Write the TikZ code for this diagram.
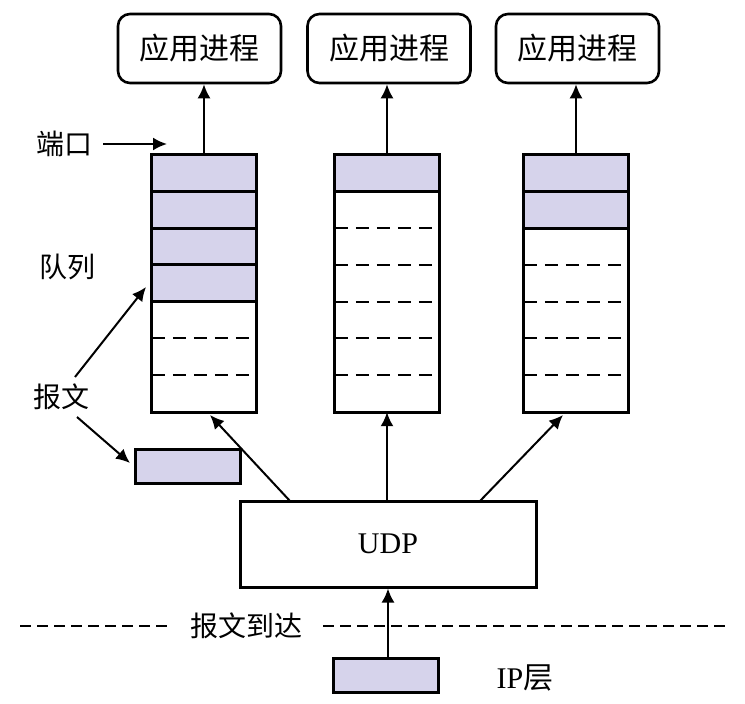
\documentclass[tikz,border=0pt]{standalone}
\usepackage{fontspec}
\setmainfont{Liberation Serif}
\newfontfamily\cjk{Noto Sans CJK SC}
\usetikzlibrary{arrows.meta}
\definecolor{pktfill}{RGB}{214,211,235}
\begin{document}
\begin{tikzpicture}[x=1pt,y=-1pt,
  app/.style={draw, line width=2.6pt, rounded corners=12pt, minimum width=163pt, minimum height=69pt, inner sep=0pt, font=\cjk\fontsize{30}{36}\selectfont},
  queue/.style={minimum width=104pt, minimum height=257pt, inner sep=0pt},
  qborder/.style={line width=3pt},
  solidln/.style={line width=3pt},
  dashln/.style={line width=2pt, dash pattern=on 13pt off 8pt},
  pkt/.style={draw, fill=pktfill, line width=3pt, minimum width=105pt, minimum height=34pt, inner sep=0pt},
  udpbox/.style={draw, line width=3pt, minimum width=296pt, minimum height=86pt, inner sep=0pt, font=\fontsize{30}{36}\selectfont},
  lbl/.style={inner sep=0pt, font=\cjk\fontsize{28}{34}\selectfont},
  arr/.style={line width=2pt, -{Latex[length=14pt,width=13pt]}},
  sep/.style={line width=2pt, dash pattern=on 11pt off 6pt}]
\useasboundingbox (0,0) rectangle (745,704);

% application processes
\node[app] (a1) at (199.5,48.5) {应用进程};
\node[app] (a2) at (389,48.5) {应用进程};
\node[app] (a3) at (577.5,48.5) {应用进程};

% queues
\node[queue] (q1) at (204,283.5) {};
\node[queue] (q2) at (387,283.5) {};
\node[queue] (q3) at (576,283.5) {};
\foreach \q/\n in {q1/4,q2/1,q3/2} {
  \fill[pktfill] (\q.north west) rectangle ([yshift=-\n*36.714pt]\q.north east);
  \foreach \j in {1,...,6} {
    \ifnum\j>\n\def\st{dashln}\else\def\st{solidln}\fi
    \draw[\st] ([yshift=-\j*36.714pt]\q.north west) -- ([yshift=-\j*36.714pt]\q.north east);
  }
  \draw[qborder] (\q.north west) rectangle (\q.south east);
}

% queue -> application arrows
\draw[arr] (q1.north) -- (q1.north |- a1.south);
\draw[arr] (q2.north) -- (q2.north |- a2.south);
\draw[arr] (q3.north) -- (q3.north |- a3.south);

% labels on the left
\node[lbl] (port) at (64.5,144) {端口};
\coordinate (porttip) at (167,144);
\draw[arr] (103,144) coordinate (portstart) -- (porttip);
\node[lbl] (queuelbl) at (67,267) {队列};
\node[lbl] (msg) at (61.5,397) {报文};
\coordinate (msgs1) at (75,377);
\coordinate (msgt1) at (146,287);
\coordinate (msgs2) at (77,417);
\coordinate (msgt2) at (130,463);
\draw[arr] (msgs1) -- (msgt1);
\draw[arr] (msgs2) -- (msgt2);

% single datagram
\node[pkt] (dg) at (187.5,466) {};

% UDP
\node[udpbox] (udp) at (388,544) {UDP};
\coordinate (u1) at (290,501);
\coordinate (t1) at (210,415);
\coordinate (u3) at (480,501);
\coordinate (t3) at (563,415);
\draw[arr] (u1) -- (t1);
\draw[arr] (udp.north -| q2.south) -- (q2.south);
\draw[arr] (u3) -- (t3);

% arrival line
\node[lbl] (arrive) at (246,626) {报文到达};
\coordinate (sepL) at (20,626);
\coordinate (sepR) at (725,626);
\draw[sep] (sepL) -- (arrive.west -| 170,0);
\draw[sep] (arrive.east -| 323,0) -- (sepR);

% IP layer datagram
\node[pkt] (ipdg) at (385.5,675.5) {};
\draw[arr] (ipdg.north -| udp.south) -- (udp.south);
\node[inner sep=0pt, font=\fontsize{30}{36}\selectfont] (iplbl) at (525,678) {IP{\cjk 层}};
\end{tikzpicture}
\end{document}
